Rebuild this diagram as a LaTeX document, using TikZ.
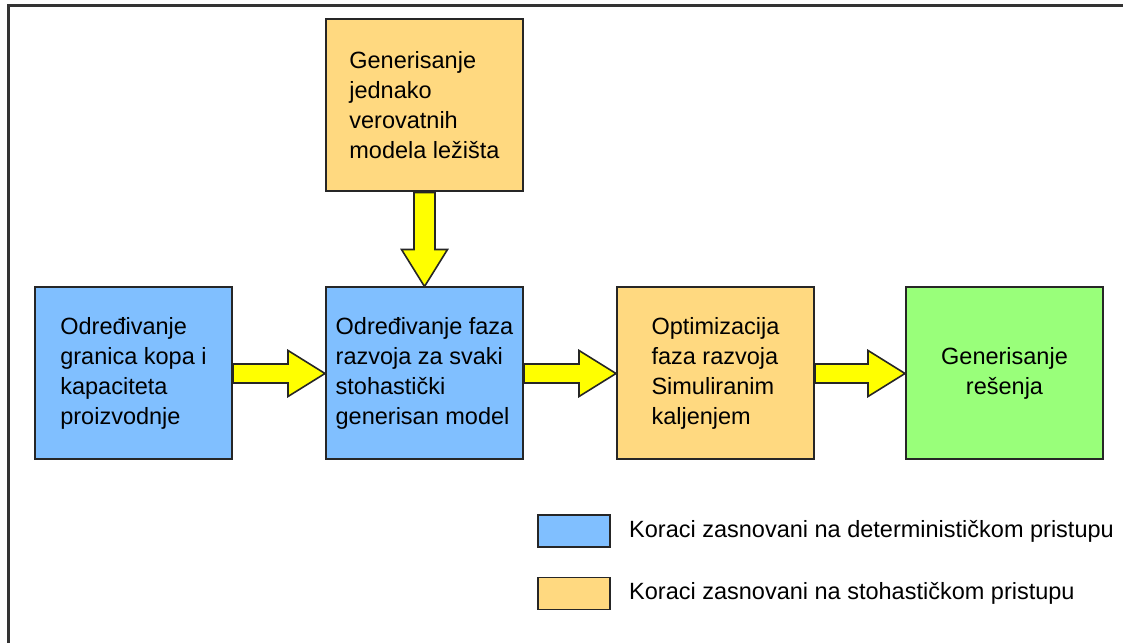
\documentclass[tikz,border=0pt]{standalone}
\usepackage{fontspec}
\setmainfont{Liberation Sans}
\usetikzlibrary{positioning, calc}

\definecolor{detblue}{RGB}{128,191,255}
\definecolor{stohorange}{RGB}{255,217,128}
\definecolor{resgreen}{RGB}{153,255,122}
\definecolor{arrowyellow}{RGB}{255,255,0}

% fat block arrows between two boxes
\newcommand{\fatright}[2]{
\draw[fat] ($(#1.east)+(0,9.5)$) -- ($(#2.west)+(-37,9.5)$) -- ($(#2.west)+(-37,23)$) -- (#2.west)
  -- ($(#2.west)+(-37,-23)$) -- ($(#2.west)+(-37,-9.5)$) -- ($(#1.east)+(0,-9.5)$) -- cycle;}
\newcommand{\fatdown}[2]{
\draw[fat] ($(#1.south)+(-10.5,0)$) -- ($(#2.north)+(-10.5,37)$) -- ($(#2.north)+(-23,37)$) -- (#2.north)
  -- ($(#2.north)+(23,37)$) -- ($(#2.north)+(10.5,37)$) -- ($(#1.south)+(10.5,0)$) -- cycle;}

\begin{document}
\begin{tikzpicture}[x=0.5pt, y=0.5pt,
  stepbox/.style = {draw=black!85, line width=1pt, minimum width=98.5pt, minimum height=86pt,
    align=left, font=\fontsize{11.75}{15}\selectfont, inner sep=0pt},
  det/.style = {stepbox, fill=detblue},
  stoh/.style = {stepbox, fill=stohorange},
  res/.style = {stepbox, fill=resgreen, align=center},
  fat/.style = {draw=black!85, line width=0.8pt, fill=arrowyellow, line join=miter},
  legbox/.style = {draw=black!85, line width=0.8pt, minimum width=36pt, minimum height=16pt, inner sep=0pt},
  legtext/.style = {anchor=west, inner sep=0pt, font=\fontsize{11.75}{15}\selectfont},
  frame/.style = {draw=black!80, line width=1.5pt}]
\useasboundingbox (0,0) rectangle (1123,642);
\clip (0,0) rectangle (1123,642);
\fill[white] (0,0) rectangle (1123,642);
\draw[frame] (8,-20) -- (8,636) -- (1140,636);

\node[det] (granice) at (133.5,268.5) {Određivanje\\granica kopa i\\kapaciteta\\proizvodnje};
\node[det] (faze) [right=46pt of granice] {Određivanje faza\\razvoja za svaki\\stohastički\\generisan model};
\node[stoh] (modeli) [above=47pt of faze] {Generisanje\\jednako\\verovatnih\\modela ležišta};
\node[stoh] (optim) [right=46pt of faze] {Optimizacija\\faza razvoja\\Simuliranim\\kaljenjem};
\node[res] (resenje) [right=45pt of optim] {Generisanje\\rešenja};

\fatdown{modeli}{faze}
\fatright{granice}{faze}
\fatright{faze}{optim}
\fatright{optim}{resenje}

\node[legbox, fill=detblue] (legdet) at (574,111) {};
\node[legtext] (legdettxt) [right=9pt of legdet] {Koraci zasnovani na determinističkom pristupu};
\node[legbox, fill=stohorange] (legstoh) at (574,48.5) {};
\node[legtext] (legstohtxt) [right=9pt of legstoh] {Koraci zasnovani na stohastičkom pristupu};
\end{tikzpicture}
\end{document}
